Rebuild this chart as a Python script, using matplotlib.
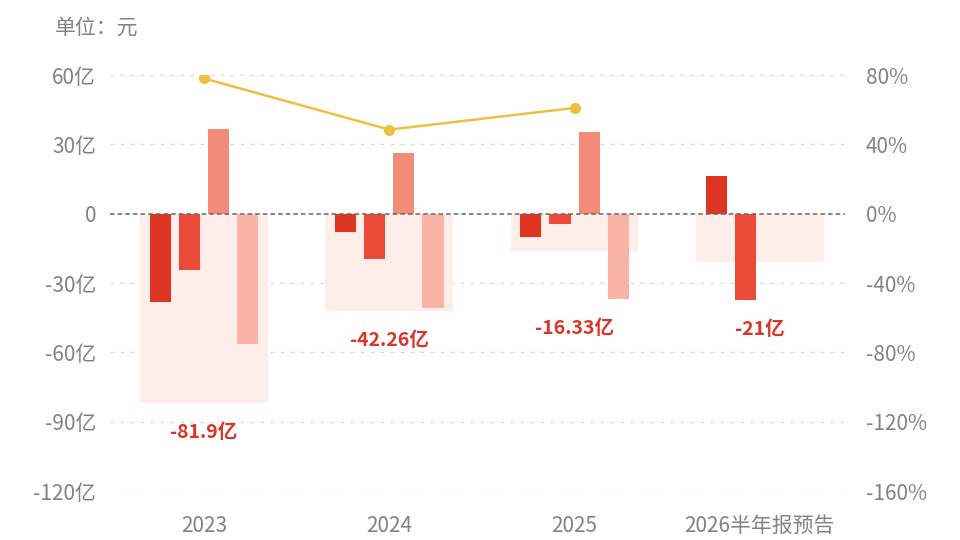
import matplotlib
matplotlib.use("Agg")
import matplotlib.pyplot as plt
import numpy as np

plt.rcParams['font.family'] = ['Noto Sans CJK SC', 'DejaVu Sans']

# Données (en milliards de yuans, 亿)
periodes = ["2023", "2024", "2025", "2026半年报预告"]
q1 = [-38.0, -8.0, -10.0, 16.5]
q2 = [-24.5, -19.8, -4.5, -37.5]
q3 = [36.8, 26.2, 35.2, np.nan]
q4 = [-56.2, -40.7, -37.0, np.nan]
total = [-81.9, -42.26, -16.33, -21.0]
total_labels = ["-81.9亿", "-42.26亿", "-16.33亿", "-21亿"]
taux = [78.0, 48.5, 61.0, np.nan]   # axe de droite, en %

y_ticks = [-120, -90, -60, -30, 0, 30, 60]
y2_ticks = [-160, -120, -80, -40, 0, 40, 80]

# Couleurs
couleurs = ["#DD3522", "#EC4B39", "#F28C78", "#F9B3A7"]
fond = "#FFEDEA"
jaune = "#EDC03F"
gris = "#828282"
rouge_txt = "#D8362A"

fig = plt.figure(figsize=(9.6, 5.4), dpi=100)
ax = fig.add_axes([0.1146, 0.0907, 0.7656, 0.7704])

x = np.arange(len(periodes))
slot = 0.157
largeur = 0.114

# Rectangle de fond = total annuel
ax.bar(x, total, width=0.69, color=fond, zorder=1)

# Barres trimestrielles
for i, serie in enumerate([q1, q2, q3, q4]):
    ax.bar(x + (i - 1.5) * slot, serie, width=largeur, color=couleurs[i], zorder=2)

# Libellés du total
for xi, t, lab, a, b, c, d in zip(x, total, total_labels, q1, q2, q3, q4):
    bas = np.nanmin([t, a, b, c, d])
    ax.annotate(lab, (xi, bas), xytext=(0, -21), textcoords="offset points",
                ha="center", va="center", color=rouge_txt, fontsize=14,
                fontweight="bold", zorder=5)

ax.set_xlim(-0.508, 3.46)
ax.set_ylim(-120, 60)
ax.set_yticks(y_ticks)
ax.set_yticklabels([f"{v}亿" if v != 0 else "0" for v in y_ticks])
ax.set_xticks(x)
ax.set_xticklabels(periodes)

# Grille
for v in y_ticks:
    if v == 0:
        ax.axhline(0, color="#666666", lw=1.1, ls=(0, (3, 2)), zorder=3)
    else:
        ax.axhline(v, color="#D9D9D9", lw=0.9, ls=(0, (3, 5)), zorder=0)

for s in ax.spines.values():
    s.set_visible(False)
ax.tick_params(axis="y", length=0, pad=10, labelsize=15, labelcolor=gris)
ax.tick_params(axis="x", length=0, pad=17, labelsize=15, labelcolor=gris)

# Axe de droite
ax2 = ax.twinx()
ax2.set_ylim(-160, 80)
ax2.set_yticks(y2_ticks)
ax2.set_yticklabels([f"{v}%" for v in y2_ticks])
ax2.tick_params(axis="y", length=0, pad=15, labelsize=15, labelcolor=gris)
for s in ax2.spines.values():
    s.set_visible(False)
ax2.plot(x, taux, color=jaune, lw=1.8, marker="o", markersize=7, zorder=4)

fig.text(55 / 960, 1 - 28 / 540, "单位：元", fontsize=15, color=gris,
         ha="left", va="center")

fig.savefig("out.png", dpi=100)
